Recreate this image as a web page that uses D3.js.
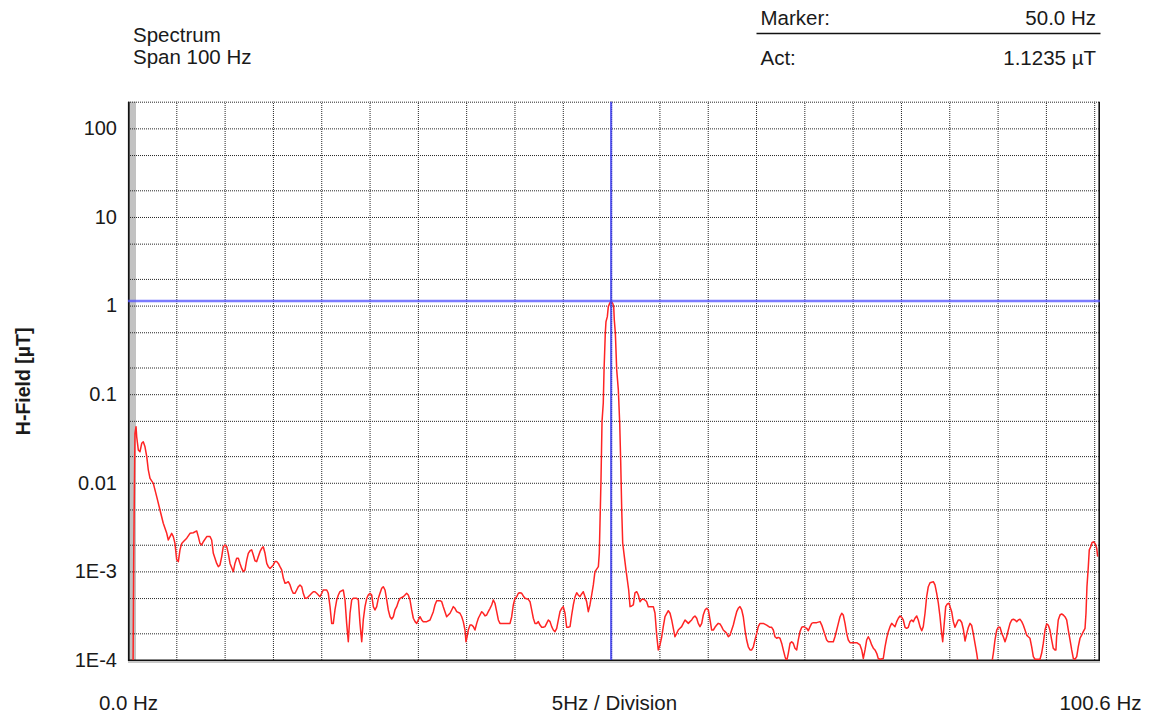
<!DOCTYPE html>
<html>
<head>
<meta charset="utf-8">
<script src="https://cdn.jsdelivr.net/npm/d3@7"></script>
<style>
    body { margin: 0; background: #fff; }
    svg text { font-family: "Liberation Sans", Arial, sans-serif; fill: #1a1a1a; }
</style>
</head>
<body>
<svg id="chart" width="1152" height="720"></svg>
<script>
// axis span & marker readout
const SPAN_HZ = [0, 100.6];
const FIELD_RANGE = [1e-4, 200];
const MARKER_HZ = 50.0;
const MARKER_ACT = 1.1235;

const HEADER_LEFT = ["Spectrum", "Span 100 Hz"];
const HEADER_RIGHT = [["Marker:", "50.0 Hz"], ["Act:", "1.1235 \u00b5T"]];
const Y_TITLE = "H-Field [\u00b5T]";

const Y_TICKS = [100, 10, 1, 0.1, 0.01, 1e-3, 1e-4];
const Y_TICK_LABELS = ["100", "10", "1", "0.1", "0.01", "1E-3", "1E-4"];
const Y_GRID = [2e-4, 5e-4, 1e-3, 2e-3, 5e-3, 0.01, 0.02, 0.05, 0.1, 0.2, 0.5, 1, 2, 5, 10, 20, 50, 100, 200];
const X_GRID = [5, 10, 15, 20, 25, 30, 35, 40, 45, 50, 55, 60, 65, 70, 75, 80, 85, 90, 95, 100];
const X_LABELS = ["0.0 Hz", "5Hz / Division", "100.6 Hz"];

// spectrum trace: [frequency Hz, field uT]
const trace = [
    [0.50, 3e-5], [0.59, 1.35e-3], [0.72, 0.0362], [0.83, 0.0430], [0.90, 0.0331], [1.07, 0.0234], [1.24, 0.0224],
    [1.42, 0.0279], [1.58, 0.0291], [1.76, 0.0255], [1.94, 0.0197], [2.10, 0.0140], [2.28, 0.0112], [2.62, 0.00986],
    [2.97, 0.00697], [3.31, 0.00493], [3.65, 0.00349], [4.01, 0.00269], [4.17, 0.00226], [4.35, 0.00247], [4.52, 0.00269],
    [4.69, 0.00247], [4.86, 0.00207], [5.04, 0.00135], [5.21, 0.00129], [5.38, 0.00175], [5.56, 0.00207], [5.72, 0.00216],
    [6.08, 0.00237], [6.42, 0.00269], [6.76, 0.00273], [7.11, 0.00286], [7.28, 0.00247], [7.45, 0.00207], [7.63, 0.00199],
    [7.79, 0.00216], [8.15, 0.00247], [8.49, 0.00247], [8.66, 0.00226], [8.83, 0.00160], [9.18, 0.00123], [9.35, 0.00113],
    [9.52, 0.00118], [9.70, 0.00147], [9.86, 0.00190], [10.04, 0.00199], [10.22, 0.00190], [10.38, 0.00160], [10.56, 0.00123],
    [10.90, 0.000993], [11.07, 0.00123], [11.25, 0.00141], [11.42, 0.00141], [11.59, 0.00123], [11.77, 0.00108], [11.93, 0.000993],
    [12.11, 0.00104], [12.29, 0.00135], [12.45, 0.00160], [12.63, 0.00171], [12.80, 0.00175], [12.97, 0.00153], [13.14, 0.00132],
    [13.32, 0.00129], [13.49, 0.00147], [13.66, 0.00167], [13.84, 0.00182], [14.00, 0.00190], [14.18, 0.00160], [14.36, 0.00123],
    [14.52, 0.00113], [14.70, 0.00108], [14.87, 0.00113], [15.04, 0.00118], [15.21, 0.00129], [15.39, 0.00129], [15.56, 0.00123],
    [15.73, 0.00113], [15.91, 0.00104], [16.08, 0.000836], [16.25, 0.000734], [16.43, 0.000745], [16.59, 0.000765], [16.77, 0.000703],
    [16.94, 0.000617], [17.11, 0.000566], [17.28, 0.000566], [17.46, 0.000617], [17.63, 0.000672], [17.80, 0.000703], [17.98, 0.000672],
    [18.14, 0.000566], [18.32, 0.000497], [18.50, 0.000497], [18.66, 0.000518], [18.84, 0.000542], [19.01, 0.000566], [19.18, 0.000590],
    [19.35, 0.000590], [19.53, 0.000566], [19.87, 0.000518], [20.21, 0.000617], [20.57, 0.000617], [20.73, 0.000566], [20.91, 0.000400],
    [21.08, 0.000259], [21.25, 0.000259], [21.42, 0.000367], [21.60, 0.000475], [21.77, 0.000542], [21.94, 0.000590], [22.28, 0.000617],
    [22.46, 0.000475], [22.63, 0.000259], [22.80, 0.000161], [22.98, 0.000337], [23.15, 0.000475], [23.32, 0.000497], [23.67, 0.000497],
    [23.84, 0.000475], [24.01, 0.000259], [24.19, 0.000161], [24.35, 0.000283], [24.53, 0.000400], [24.71, 0.000497], [24.87, 0.000542],
    [25.05, 0.000566], [25.22, 0.000542], [25.39, 0.000400], [25.56, 0.000367], [25.74, 0.000400], [25.91, 0.000497], [26.08, 0.000566],
    [26.26, 0.000644], [26.42, 0.000672], [26.60, 0.000617], [26.78, 0.000475], [26.94, 0.000367], [27.12, 0.000308], [27.29, 0.000290],
    [27.46, 0.000308], [27.63, 0.000367], [27.81, 0.000400], [27.98, 0.000455], [28.15, 0.000497], [28.49, 0.000518], [28.67, 0.000542],
    [28.84, 0.000566], [29.01, 0.000542], [29.19, 0.000475], [29.36, 0.000367], [29.53, 0.000296], [29.71, 0.000271], [29.88, 0.000259],
    [30.05, 0.000283], [30.22, 0.000308], [30.40, 0.000283], [30.56, 0.000271], [30.92, 0.000271], [31.26, 0.000283], [31.60, 0.000351],
    [31.77, 0.000418], [31.95, 0.000467], [32.29, 0.000467], [32.47, 0.000455], [32.63, 0.000400], [32.98, 0.000308], [33.15, 0.000322],
    [33.33, 0.000337], [33.50, 0.000367], [33.67, 0.000400], [33.84, 0.000383], [34.02, 0.000351], [34.36, 0.000337], [34.54, 0.000308],
    [34.70, 0.000271], [34.88, 0.000218], [34.98, 0.000161], [35.09, 0.000183], [35.22, 0.000218], [35.40, 0.000248], [35.57, 0.000248],
    [35.74, 0.000238], [35.91, 0.000218], [36.09, 0.000259], [36.26, 0.000296], [36.43, 0.000322], [36.61, 0.000351], [36.77, 0.000337],
    [36.95, 0.000314], [37.12, 0.000322], [37.29, 0.000351], [37.47, 0.000383], [37.64, 0.000418], [37.81, 0.000475], [37.98, 0.000437],
    [38.16, 0.000351], [38.33, 0.000283], [38.50, 0.000259], [39.54, 0.000259], [39.71, 0.000308], [39.88, 0.000418], [40.05, 0.000497],
    [40.23, 0.000518], [40.40, 0.000566], [40.57, 0.000575], [40.75, 0.000566], [40.91, 0.000528], [41.09, 0.000497], [41.43, 0.000484],
    [41.61, 0.000455], [41.78, 0.000367], [41.95, 0.000296], [42.12, 0.000259], [42.30, 0.000259], [42.47, 0.000271], [42.64, 0.000248],
    [42.82, 0.000234], [42.98, 0.000234], [43.16, 0.000238], [43.33, 0.000259], [43.50, 0.000283], [43.68, 0.000271], [43.85, 0.000238],
    [44.02, 0.000218], [44.19, 0.000209], [44.37, 0.000228], [44.54, 0.000283], [44.71, 0.000351], [44.89, 0.000383], [45.05, 0.000400],
    [45.23, 0.000337], [45.40, 0.000234], [45.57, 0.000234], [45.75, 0.000238], [45.92, 0.000322], [46.09, 0.000418], [46.27, 0.000518],
    [46.44, 0.000575], [46.60, 0.000542], [46.78, 0.000518], [46.95, 0.000556], [47.12, 0.000590], [47.30, 0.000518], [47.47, 0.000455],
    [47.64, 0.000351], [47.81, 0.000418], [47.99, 0.000542], [48.16, 0.000703], [48.33, 0.000993], [48.51, 0.00106], [48.68, 0.00113],
    [48.78, 0.00161], [48.85, 0.00349], [48.95, 0.0103], [49.06, 0.0490], [49.19, 0.0796], [49.27, 0.188], [49.34, 0.316],
    [49.40, 0.491], [49.47, 0.658], [49.61, 0.750], [49.71, 0.973], [49.89, 1.08], [50.00, 1.12], [50.17, 1.06],
    [50.27, 0.973], [50.33, 0.689], [50.44, 0.491], [50.58, 0.188], [50.75, 0.111], [50.89, 0.0473], [50.99, 0.0181],
    [51.10, 0.00493], [51.20, 0.00209], [51.37, 0.00147], [51.54, 0.00104], [51.68, 0.000800], [51.82, 0.000617], [51.96, 0.000400],
    [52.13, 0.000407], [52.30, 0.000418], [52.47, 0.000571], [52.65, 0.000590], [52.82, 0.000542], [52.99, 0.000455], [53.17, 0.000482],
    [53.33, 0.000487], [53.51, 0.000475], [53.68, 0.000455], [53.85, 0.000400], [54.37, 0.000400], [54.54, 0.000339], [54.72, 0.000191],
    [54.88, 0.000130], [55.06, 0.000148], [55.24, 0.000183], [55.40, 0.000238], [55.58, 0.000308], [55.92, 0.000360], [56.10, 0.000337],
    [56.27, 0.000283], [56.44, 0.000228], [56.61, 0.000183], [56.79, 0.000200], [56.95, 0.000218], [57.13, 0.000228], [57.30, 0.000238],
    [57.47, 0.000259], [57.65, 0.000283], [57.82, 0.000271], [57.99, 0.000259], [58.16, 0.000271], [58.34, 0.000283], [58.51, 0.000303],
    [58.68, 0.000314], [58.86, 0.000296], [59.02, 0.000259], [59.20, 0.000238], [59.38, 0.000259], [59.54, 0.000322], [59.72, 0.000367],
    [59.89, 0.000383], [60.06, 0.000367], [60.24, 0.000283], [60.41, 0.000218], [60.58, 0.000218], [60.75, 0.000234], [60.93, 0.000248],
    [61.09, 0.000259], [61.27, 0.000255], [61.44, 0.000238], [61.61, 0.000218], [61.79, 0.000209], [61.96, 0.000200], [62.13, 0.000183],
    [62.31, 0.000191], [62.48, 0.000218], [62.65, 0.000248], [62.82, 0.000296], [63.00, 0.000351], [63.16, 0.000383], [63.34, 0.000400],
    [63.52, 0.000367], [63.68, 0.000308], [63.86, 0.000218], [64.03, 0.000168], [64.20, 0.000141], [64.38, 0.000130], [64.55, 0.000130],
    [64.72, 0.000141], [64.89, 0.000168], [65.07, 0.000200], [65.23, 0.000238], [65.41, 0.000259], [65.75, 0.000259], [66.10, 0.000248],
    [66.44, 0.000234], [66.62, 0.000234], [66.79, 0.000218], [66.96, 0.000183], [67.14, 0.000176], [67.30, 0.000180], [67.48, 0.000176],
    [67.66, 0.000154], [67.82, 0.000130], [68.00, 0.000109], [68.17, 0.000097], [68.34, 0.000119], [68.52, 0.000154], [68.69, 0.000161],
    [68.86, 0.000154], [69.03, 0.000136], [69.21, 0.000130], [69.37, 0.000168], [69.55, 0.000209], [69.73, 0.000234], [69.89, 0.000238],
    [70.07, 0.000234], [70.24, 0.000228], [70.41, 0.000214], [70.59, 0.000238], [70.76, 0.000259], [70.93, 0.000264], [71.28, 0.000264],
    [71.63, 0.000271], [71.80, 0.000248], [71.97, 0.000218], [72.14, 0.000191], [72.31, 0.000168], [72.48, 0.000161], [73.00, 0.000161],
    [73.17, 0.000183], [73.35, 0.000218], [73.52, 0.000259], [73.69, 0.000308], [73.87, 0.000337], [74.03, 0.000322], [74.21, 0.000259],
    [74.38, 0.000200], [74.55, 0.000168], [74.73, 0.000157], [75.42, 0.000157], [75.76, 0.000148], [75.94, 0.000130], [76.10, 0.000104],
    [76.28, 0.000130], [76.45, 0.000168], [76.62, 0.000183], [76.79, 0.000168], [76.97, 0.000148], [77.14, 0.000136], [77.31, 0.000130],
    [77.49, 0.000119], [77.65, 0.000104], [77.83, 0.000102], [78.17, 0.000104], [78.35, 0.000141], [78.52, 0.000176], [78.69, 0.000209],
    [78.87, 0.000238], [79.04, 0.000259], [79.21, 0.000248], [79.38, 0.000238], [79.56, 0.000271], [79.73, 0.000296], [79.90, 0.000314],
    [80.08, 0.000303], [80.24, 0.000283], [80.42, 0.000234], [80.59, 0.000228], [80.76, 0.000234], [80.94, 0.000271], [81.11, 0.000283],
    [81.28, 0.000271], [81.45, 0.000296], [81.63, 0.000314], [81.79, 0.000283], [81.97, 0.000238], [82.15, 0.000214], [82.31, 0.000238],
    [82.49, 0.000337], [82.66, 0.000518], [82.83, 0.000672], [83.01, 0.000745], [83.35, 0.000765], [83.52, 0.000703], [83.70, 0.000566],
    [83.87, 0.000437], [84.04, 0.000308], [84.21, 0.000200], [84.32, 0.000161], [84.45, 0.000238], [84.63, 0.000400], [84.80, 0.000429],
    [84.97, 0.000437], [85.08, 0.000400], [85.25, 0.000351], [85.42, 0.000271], [85.59, 0.000234], [85.77, 0.000259], [85.93, 0.000283],
    [86.11, 0.000283], [86.29, 0.000265], [86.45, 0.000224], [86.63, 0.000164], [86.80, 0.000197], [86.97, 0.000233], [87.15, 0.000259],
    [87.32, 0.000245], [87.49, 0.000197], [87.66, 0.000154], [87.84, 0.000119], [87.94, 0.000100], [88.08, 0.00008], [88.70, 0.00006],
    [89.32, 0.00008], [89.45, 0.000100], [89.56, 0.000119], [89.73, 0.000168], [89.91, 0.000218], [90.07, 0.000234], [90.25, 0.000234],
    [90.43, 0.000200], [90.59, 0.000183], [90.77, 0.000161], [90.94, 0.000183], [91.11, 0.000218], [91.29, 0.000259], [91.46, 0.000283],
    [91.63, 0.000288], [91.80, 0.000283], [91.98, 0.000271], [92.14, 0.000283], [92.32, 0.000288], [92.50, 0.000271], [92.66, 0.000248],
    [92.84, 0.000218], [93.01, 0.000191], [93.18, 0.000183], [93.35, 0.000176], [93.53, 0.000141], [93.70, 0.000109], [93.87, 0.000102],
    [94.39, 0.000102], [94.56, 0.000119], [94.73, 0.000154], [94.91, 0.000218], [95.08, 0.000255], [95.24, 0.000248], [95.42, 0.000218],
    [95.60, 0.000168], [95.76, 0.000136], [95.94, 0.000130], [96.04, 0.000130], [96.11, 0.000183], [96.28, 0.000283], [96.46, 0.000322],
    [96.63, 0.000331], [96.80, 0.000322], [96.97, 0.000308], [97.15, 0.000283], [97.32, 0.000218], [97.50, 0.000168], [97.67, 0.000130],
    [97.84, 0.000104], [98.01, 0.000102], [98.19, 0.000109], [98.35, 0.000141], [98.53, 0.000176], [98.70, 0.000191], [98.87, 0.000209],
    [99.05, 0.000228], [99.15, 0.000337], [99.25, 0.000672], [99.39, 0.00113], [99.49, 0.00175], [99.64, 0.00190], [99.77, 0.00211],
    [99.91, 0.00216], [100.08, 0.00207], [100.26, 0.00182], [100.36, 0.00147]
];

const PLOT = {left: 128, right: 1100, top: 101.7, bottom: 660};

let svg = d3.select("#chart");

let x = d3.scaleLinear().domain(SPAN_HZ).range([PLOT.left, PLOT.right]);
let y = d3.scaleLog().domain(FIELD_RANGE).range([PLOT.bottom, PLOT.top]);

// header block
svg.append("g").selectAll("text")
    .data(HEADER_LEFT)
    .join("text")
    .attr("x", 133)
    .attr("y", (d, i) => 41.5 + i * 22.5)
    .style("font-size", "20.5px")
    .text(d => d);

let hdr = svg.append("g").selectAll("g")
    .data(HEADER_RIGHT)
    .join("g")
    .attr("transform", (d, i) => `translate(0,${25 + i * 40})`);
hdr.append("text").attr("x", 760.5).style("font-size", "20.5px").text(d => d[0]);
hdr.append("text").attr("x", 1096).attr("text-anchor", "end").style("font-size", "20.5px").text(d => d[1]);

svg.append("line")
    .attr("x1", 756.5).attr("x2", 1100.5)
    .attr("y1", 33.5).attr("y2", 33.5)
    .attr("stroke", "#111").attr("stroke-width", 1.6);

// gray strip at the left of the plot
svg.append("rect")
    .attr("x", PLOT.left + 1.5).attr("y", PLOT.top)
    .attr("width", 6.5).attr("height", PLOT.bottom - PLOT.top)
    .attr("fill", "#c2c2c2");

// dotted grid
let gridY = svg.append("g")
    .attr("transform", `translate(${PLOT.left},0)`)
    .call(d3.axisLeft(y).tickValues(Y_GRID).tickSize(-(PLOT.right - PLOT.left)).tickFormat(""));
gridY.select(".domain").remove();
gridY.selectAll("line").attr("stroke", "#262626").attr("stroke-dasharray", "1,1");

let gridX = svg.append("g")
    .attr("transform", `translate(0,${PLOT.bottom})`)
    .call(d3.axisBottom(x).tickValues(X_GRID).tickSize(-(PLOT.bottom - PLOT.top)).tickFormat(""));
gridX.select(".domain").remove();
gridX.selectAll("line").attr("stroke", "#262626").attr("stroke-dasharray", "1,1");

// frame
svg.append("line")
    .attr("x1", PLOT.left + 0.8).attr("x2", PLOT.left + 0.8)
    .attr("y1", PLOT.top).attr("y2", PLOT.bottom + 1)
    .attr("stroke", "#111").attr("stroke-width", 1.8);
svg.append("line")
    .attr("x1", PLOT.right - 0.8).attr("x2", PLOT.right - 0.8)
    .attr("y1", PLOT.top).attr("y2", PLOT.bottom + 1)
    .attr("stroke", "#111").attr("stroke-width", 1.6);
svg.append("line")
    .attr("x1", PLOT.left).attr("x2", PLOT.right)
    .attr("y1", PLOT.bottom + 2).attr("y2", PLOT.bottom + 2)
    .attr("stroke", "#c8c8c8").attr("stroke-width", 2);
svg.append("line")
    .attr("x1", PLOT.left).attr("x2", PLOT.right)
    .attr("y1", PLOT.bottom + 0.3).attr("y2", PLOT.bottom + 0.3)
    .attr("stroke", "#111").attr("stroke-width", 1.6);

// y tick labels
let yAxis = svg.append("g")
    .attr("transform", `translate(${PLOT.left},0)`)
    .call(d3.axisLeft(y).tickValues(Y_TICKS).tickSize(0).tickPadding(11)
        .tickFormat((d, i) => Y_TICK_LABELS[i]));
yAxis.select(".domain").remove();
yAxis.selectAll("text")
    .style("font-size", "20px")
    .style("font-family", "'Liberation Sans', Arial, sans-serif")
    .attr("fill", "#1a1a1a");

// x labels: start, centre, end of the span
let xAxis = svg.append("g")
    .attr("transform", `translate(0,${PLOT.bottom})`)
    .call(d3.axisBottom(x).tickValues([SPAN_HZ[0], (SPAN_HZ[0] + SPAN_HZ[1]) / 2, SPAN_HZ[1]])
        .tickSize(0).tickPadding(35.5)
        .tickFormat((d, i) => X_LABELS[i]));
xAxis.select(".domain").remove();
xAxis.selectAll("text")
    .style("font-size", "20.5px")
    .style("font-family", "'Liberation Sans', Arial, sans-serif")
    .attr("fill", "#1a1a1a");

svg.append("text")
    .attr("transform", `translate(29.5,${(PLOT.top + PLOT.bottom) / 2 + 0.5}) rotate(-90)`)
    .attr("text-anchor", "middle")
    .style("font-size", "19.5px")
    .style("font-weight", "bold")
    .text(Y_TITLE);

// trace
svg.append("clipPath").attr("id", "plotClip")
    .append("rect")
    .attr("x", PLOT.left).attr("y", PLOT.top)
    .attr("width", PLOT.right - PLOT.left).attr("height", PLOT.bottom - PLOT.top);

let line = d3.line()
    .x(d => x(d[0]))
    .y(d => y(d[1]));

svg.append("path")
    .datum(trace)
    .attr("clip-path", "url(#plotClip)")
    .attr("fill", "none")
    .attr("stroke", "#ff2424")
    .attr("stroke-width", 1.5)
    .attr("stroke-linejoin", "round")
    .attr("d", line);

// marker cross-hair
svg.append("line")
    .attr("x1", PLOT.left).attr("x2", PLOT.right)
    .attr("y1", y(MARKER_ACT)).attr("y2", y(MARKER_ACT))
    .attr("stroke", "#4f4fff").attr("stroke-opacity", 0.75).attr("stroke-width", 2.5);
svg.append("line")
    .attr("x1", x(MARKER_HZ)).attr("x2", x(MARKER_HZ))
    .attr("y1", PLOT.top).attr("y2", PLOT.bottom)
    .attr("stroke", "#4040f0").attr("stroke-opacity", 0.8).attr("stroke-width", 2.2);
</script>
</body>
</html>
